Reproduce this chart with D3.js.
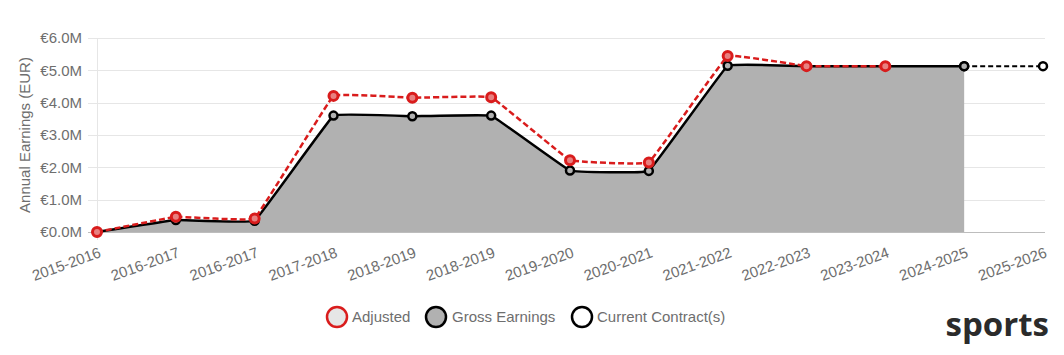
<!DOCTYPE html>
<html><head><meta charset="utf-8">
<script src="https://cdn.jsdelivr.net/npm/d3@7"></script>
<style>body{margin:0;background:#fff;} svg{display:block;}</style>
</head><body>
<svg id="c" width="1064" height="355"></svg>
<script>
const categories = ["2015-2016","2016-2017","2016-2017","2017-2018","2018-2019","2018-2019","2019-2020","2020-2021","2021-2022","2022-2023","2023-2024","2024-2025","2025-2026"];
const grossValues = [0, 0.37, 0.35, 3.6, 3.58, 3.6, 1.9, 1.89, 5.14, 5.13, 5.13, 5.13, null];
const adjustedValues = [0, 0.47, 0.42, 4.21, 4.15, 4.17, 2.22, 2.15, 5.44, 5.13, 5.13, null, null];
const contractValues = [null, null, null, null, null, null, null, null, null, null, null, 5.13, 5.13];
const yTicks = [0, 1, 2, 3, 4, 5, 6];
const legendLabels = ["Adjusted", "Gross Earnings", "Current Contract(s)"];

(function(){
const svg = d3.select("#c");
const font = "'Liberation Sans', Arial, sans-serif";
const pL = 97, pR = 1043, pT = 38, pB = 232;
const idx = categories.map((d,i)=>i);
const x = d3.scalePoint().domain(idx).range([pL, pR]);
const y = d3.scaleLinear().domain([0, 6]).range([pB, pT]);

svg.append("g").selectAll("line").data(yTicks).join("line")
  .attr("x1", 88).attr("x2", 1045)
  .attr("y1", d=>Math.round(y(d))+0.5).attr("y2", d=>Math.round(y(d))+0.5)
  .attr("stroke", d=> d===0 ? "#bdbdbd" : "#e6e6e6").attr("stroke-width", 1);
svg.append("line").attr("x1", pL+0.5).attr("x2", pL+0.5).attr("y1", pT).attr("y2", pB+8)
  .attr("stroke", "#e6e6e6");

svg.append("g").selectAll("text").data(yTicks).join("text")
  .attr("x", 82).attr("y", d=>y(d)).attr("dy", "0.35em")
  .attr("text-anchor", "end").attr("font-family", font).attr("font-size", 15).attr("fill", "#6e6e6e")
  .text(d => "€" + d.toFixed(1) + "M");

svg.append("text").attr("transform", `translate(30,${(pT+pB)/2}) rotate(-90)`)
  .attr("text-anchor", "middle").attr("font-family", font).attr("font-size", 15).attr("fill", "#6e6e6e")
  .text("Annual Earnings (EUR)");

svg.append("g").selectAll("text").data(idx).join("text")
  .attr("transform", i => `translate(${x(i)+1},${pB+14}) rotate(-20)`)
  .attr("text-anchor", "end").attr("dy", "0.75em")
  .attr("font-family", font).attr("font-size", 15).attr("fill", "#6e6e6e")
  .text(i => categories[i]);

const curve = d3.curveCardinal.tension(0.85);
const grossPts = idx.filter(i => grossValues[i] !== null);
svg.append("path").datum(grossPts)
  .attr("d", d3.area().x(i=>x(i)).y0(y(0)).y1(i=>y(grossValues[i])).curve(curve))
  .attr("fill", "#b1b1b1");

const contractPts = idx.filter(i => contractValues[i] !== null);
svg.append("path").datum(contractPts)
  .attr("d", d3.line().x(i=>x(i)).y(i=>y(contractValues[i])))
  .attr("fill", "none").attr("stroke", "#000").attr("stroke-width", 2).attr("stroke-dasharray", "5,3");

svg.append("path").datum(grossPts)
  .attr("d", d3.line().x(i=>x(i)).y(i=>y(grossValues[i])).curve(curve))
  .attr("fill", "none").attr("stroke", "#000").attr("stroke-width", 2.5);

const adjPts = idx.filter(i => adjustedValues[i] !== null);
svg.append("path").datum(adjPts)
  .attr("d", d3.line().x(i=>x(i)).y(i=>y(adjustedValues[i])).curve(curve))
  .attr("fill", "none").attr("stroke", "#d91c1c").attr("stroke-width", 2.5).attr("stroke-dasharray", "6,3");

svg.append("g").selectAll("circle").data(contractPts).join("circle")
  .attr("cx", i=>x(i)).attr("cy", i=>y(contractValues[i])).attr("r", 4)
  .attr("fill", "#fff").attr("stroke", "#000").attr("stroke-width", 2.5);
svg.append("g").selectAll("circle").data(grossPts).join("circle")
  .attr("cx", i=>x(i)).attr("cy", i=>y(grossValues[i])).attr("r", 4)
  .attr("fill", "#b1b1b1").attr("stroke", "#000").attr("stroke-width", 2.5);
svg.append("g").selectAll("circle").data(adjPts).join("circle")
  .attr("cx", i=>x(i)).attr("cy", i=>y(adjustedValues[i])).attr("r", 4.5)
  .attr("fill", "#e88080").attr("stroke", "#d91c1c").attr("stroke-width", 3);

const legend = [
  {cx: 337, tx: 352, fill: "#e6e6e6", stroke: "#d91c1c"},
  {cx: 436, tx: 452, fill: "#b1b1b1", stroke: "#000"},
  {cx: 582, tx: 597, fill: "#fff", stroke: "#000"}
];
const lg = svg.append("g").selectAll("g").data(legend).join("g");
lg.append("circle").attr("cx", d=>d.cx).attr("cy", 317).attr("r", 10)
  .attr("fill", d=>d.fill).attr("stroke", d=>d.stroke).attr("stroke-width", 2.5);
lg.append("text").attr("x", d=>d.tx).attr("y", 317).attr("dy", "0.35em")
  .attr("font-family", font).attr("font-size", 15).attr("fill", "#6e6e6e")
  .text((d,i)=>legendLabels[i]);

svg.append("text").attr("x", 1049).attr("y", 336).attr("text-anchor", "end")
  .attr("font-family", "'Open Sans', sans-serif").attr("font-weight", "bold").attr("font-size", 33)
  .attr("fill", "#2b2b2b").text("sports");
})();
</script>
</body></html>
